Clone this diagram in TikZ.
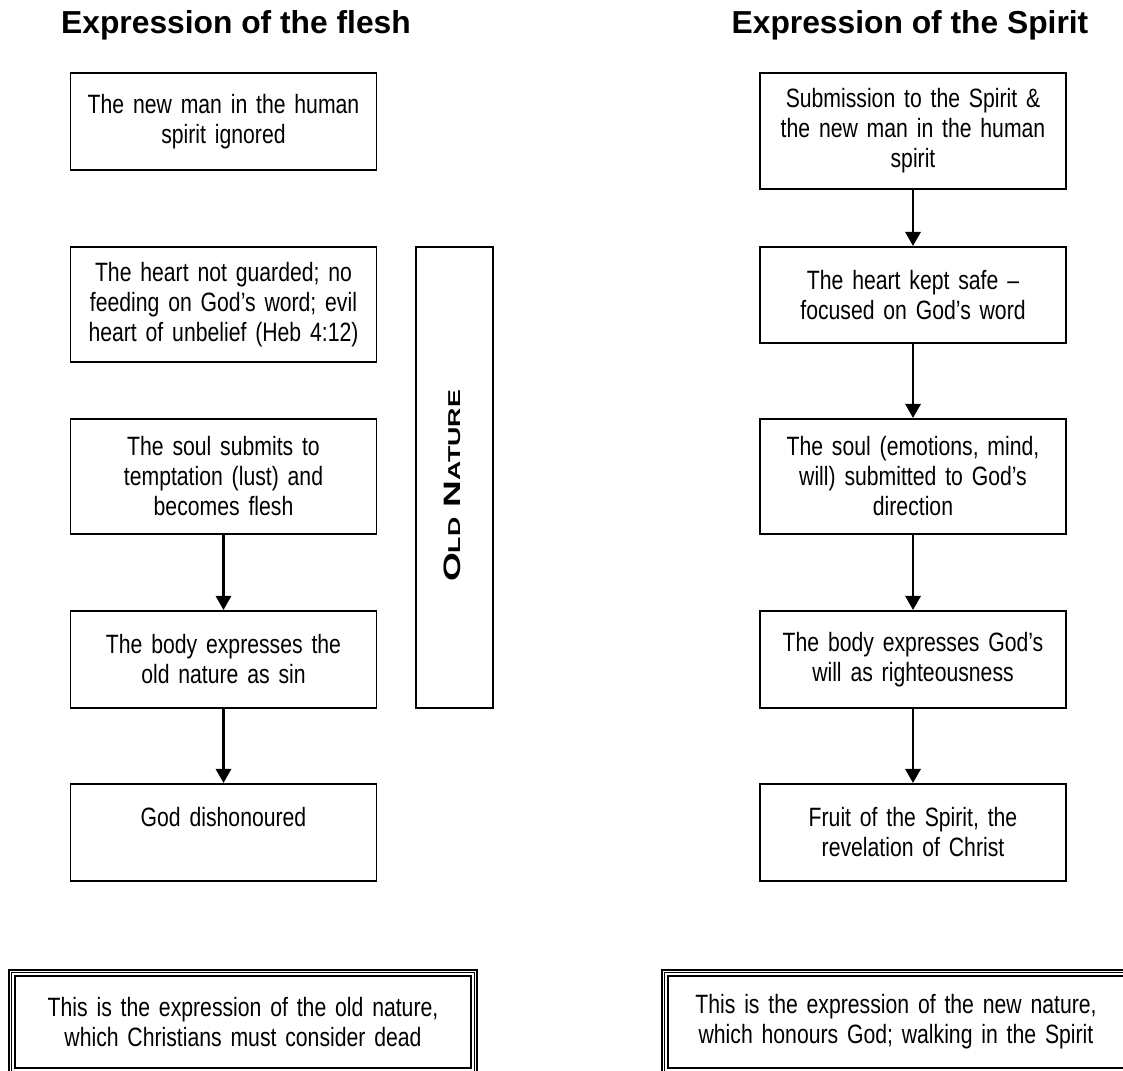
\documentclass[tikz,border=0pt]{standalone}
\usepackage{fontspec}
\usepackage{graphicx}
\usetikzlibrary{arrows.meta,positioning,calc}
\newfontfamily\narrowsf[FakeStretch=0.8]{Liberation Sans}
\newfontfamily\headsf{Liberation Sans}
\newdimen\px \px=0.7113pt
\newcommand{\bodyfont}{\narrowsf\fontsize{18.85}{21.34}\selectfont\fontdimen2\font=3.6pt\relax}

\begin{document}
\begin{tikzpicture}[
  x=\px, y=-\px,
  stage/.style={draw,line width=1.6\px,anchor=north,minimum width=306\px,
    text width=292\px,align=center,inner sep=0pt,font=\bodyfont},
  flow/.style={-{Triangle[length=10pt,width=10.7pt]},line width=2.1pt},
  title/.style={anchor=base,font=\headsf\bfseries\fontsize{22.6}{26}\selectfont},
  sumbox/.style={draw,line width=1.8\px,minimum width=468\px,minimum height=104\px,
    text width=450\px,align=center,inner sep=0pt,font=\bodyfont},
]
  \useasboundingbox (0,0) rectangle (1123,1071);
  \clip (0,0) rectangle (1123,1071);

  \node[title] (headL) at (236,33) {Expression of the flesh};
  \node[title] (headR) at (910,33) {Expression of the Spirit};

  % columna de la carne
  \node[stage,minimum height=97\px]  (f1) at (223.5,72)  {The new man in the human\\spirit ignored};
  \node[stage,minimum height=115\px] (f2) at (223.5,246) {The heart not guarded; no\\feeding on God’s word; evil\\heart of unbelief (Heb 4:12)};
  \node[stage,minimum height=115\px] (f3) at (223.5,418) {The soul submits to\\temptation (lust) and\\becomes flesh};
  \node[stage,minimum height=97\px]  (f4) at (223.5,610) {The body expresses the\\old nature as sin};
  \node[stage,minimum height=97\px]  (f5) at (223.5,783) {God dishonoured\\\phantom{X}};

  \draw[flow] (f3) -- (f4);
  \draw[flow] (f4) -- (f5);

  % columna del Espiritu
  \node[stage,minimum height=116\px] (s1) at (913,72)  {Submission to the Spirit \&\\the new man in the human\\spirit};
  \node[stage,minimum height=96\px]  (s2) at (913,246) {The heart kept safe –\\focused on God’s word};
  \node[stage,minimum height=115\px] (s3) at (913,418) {The soul (emotions, mind,\\will) submitted to God’s\\direction};
  \node[stage,minimum height=97\px]  (s4) at (913,610) {The body expresses God’s\\will as righteousness};
  \node[stage,minimum height=97\px]  (s5) at (913,783) {Fruit of the Spirit, the\\revelation of Christ};

  \foreach \a/\b in {s1/s2,s2/s3,s3/s4,s4/s5}
    \draw[flow] (\a) -- (\b);

  % barra vertical
  \node[draw,line width=1.6\px,anchor=north west,minimum width=77\px,
        minimum height=461\px,inner sep=0pt] (oldbox) at (415,246) {};
  \node[rotate=90,inner sep=0pt,font=\headsf\bfseries\fontsize{16.9}{20}\selectfont] (oldlbl) at (452,486)
        {\scalebox{1.56}[1]{O\fontsize{12.2}{14}\selectfont LD\fontsize{16.9}{20}\selectfont{} N\fontsize{12.2}{14}\selectfont ATURE}};

  % recuadros de cierre, borde triple
  \node[sumbox] (sumL) at (243,1022) {This is the expression of the old nature,\\which Christians must consider dead};
  \node[sumbox] (sumR) at (896,1022) {This is the expression of the new nature,\\which honours God; walking in the Spirit};
  \foreach \b in {sumL,sumR} {
    \draw[line width=1\px] ($(\b.north west)+(3.5,3.5)$) rectangle ($(\b.south east)+(-3.5,-3.5)$);
    \draw[line width=2.2\px] ($(\b.north west)+(7,7)$) rectangle ($(\b.south east)+(-7,-7)$);
  }
\end{tikzpicture}
\end{document}
